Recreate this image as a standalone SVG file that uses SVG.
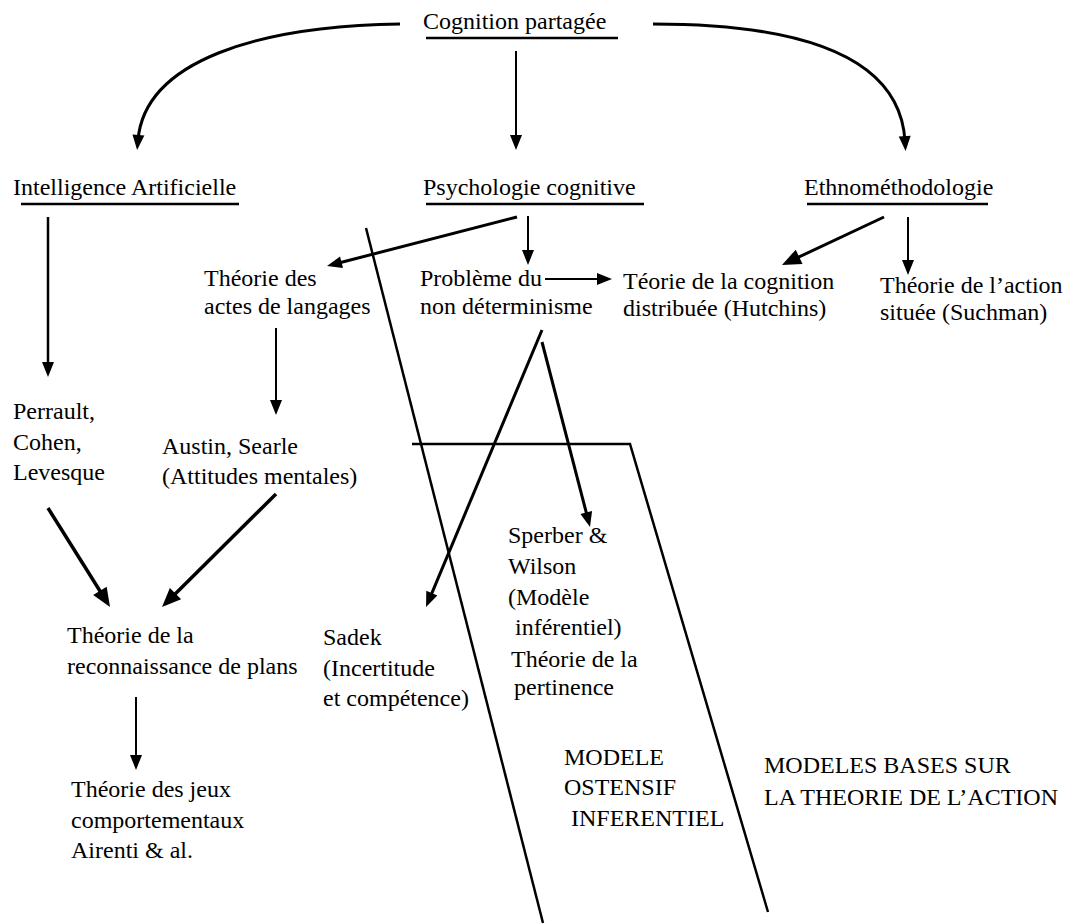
<svg xmlns="http://www.w3.org/2000/svg" width="1077" height="924" viewBox="0 0 1077 924">
<style>
text{font-family:"Liberation Serif","Times New Roman",serif;font-size:24px;fill:#000}
.ul{stroke:#000;stroke-width:2.5;fill:none}
.c{stroke:#000;fill:none}
.t2{stroke-width:2}
.t25{stroke-width:2.5}
.t3{stroke-width:3}
.t35{stroke-width:3.5}
</style>
<defs>
<marker id="ah" markerUnits="userSpaceOnUse" markerWidth="15" markerHeight="12" refX="5" refY="6" orient="auto" overflow="visible">
<path d="M0,0 L15,6 L0,12 z" fill="#000"/>
</marker>
<marker id="ahL" markerUnits="userSpaceOnUse" markerWidth="19" markerHeight="16" refX="9" refY="8" orient="auto" overflow="visible">
<path d="M0,0 L19,8 L0,16 z" fill="#000"/>
</marker>
</defs>
<rect width="1077" height="924" fill="#fff"/>

<g id="n-cognition"><text x="423" y="29">Cognition partagée</text><line class="ul" x1="426" y1="38" x2="618" y2="38"/></g>
<g id="n-ia"><text x="13" y="195">Intelligence Artificielle</text><line class="ul" x1="21" y1="204" x2="239" y2="204"/></g>
<g id="n-psy"><text x="423" y="195">Psychologie cognitive</text><line class="ul" x1="426" y1="204" x2="644" y2="204"/></g>
<g id="n-ethno"><text x="804" y="195">Ethnométhodologie</text><line class="ul" x1="807" y1="204" x2="988" y2="204"/></g>
<g id="n-actes"><text x="204" y="286">Théorie des</text><text x="204" y="314">actes de langages</text></g>
<g id="n-probleme"><text x="420" y="286">Problème du</text><text x="420" y="314">non déterminisme</text></g>
<g id="n-distrib"><text x="623" y="289">Téorie de la cognition</text><text x="623" y="316">distribuée (Hutchins)</text></g>
<g id="n-situee"><text x="880" y="293">Théorie de l’action</text><text x="880" y="320">située (Suchman)</text></g>
<g id="n-perrault"><text x="13" y="419">Perrault,</text><text x="13" y="450">Cohen,</text><text x="13" y="480">Levesque</text></g>
<g id="n-austin"><text x="162" y="454">Austin, Searle</text><text x="162" y="484">(Attitudes mentales)</text></g>
<g id="n-sperber"><text x="508" y="543">Sperber &amp;</text><text x="508" y="574">Wilson</text><text x="508" y="605">(Modèle</text><text x="515" y="635">inférentiel)</text><text x="511" y="667">Théorie de la</text><text x="514" y="695">pertinence</text></g>
<g id="n-plans"><text x="67" y="643">Théorie de la</text><text x="67" y="674">reconnaissance de plans</text></g>
<g id="n-sadek"><text x="323" y="645">Sadek</text><text x="323" y="676">(Incertitude</text><text x="323" y="706">et compétence)</text></g>
<g id="n-jeux"><text x="71" y="797">Théorie des jeux</text><text x="71" y="828">comportementaux</text><text x="71" y="858">Airenti &amp; al.</text></g>
<g id="n-ostensif"><text x="564" y="765">MODELE</text><text x="564" y="795">OSTENSIF</text><text x="571" y="826">INFERENTIEL</text></g>
<g id="n-action"><text x="764" y="773">MODELES BASES SUR</text><text x="764" y="805">LA THEORIE DE L’ACTION</text></g>

<g id="connectors">
<path class="c t3" d="M400,24 C260,26 145,60 138,140" marker-end="url(#ah)"/>
<path class="c t2" d="M516,51 V140" marker-end="url(#ah)"/>
<path class="c t3" d="M653,24 C810,24 900,60 905,141" marker-end="url(#ah)"/>
<path class="c t25" d="M48,217 V367" marker-end="url(#ah)"/>
<path class="c t3" d="M517,217 L336.7,263.5" marker-end="url(#ah)"/>
<path class="c t2" d="M528,216 V255" marker-end="url(#ah)"/>
<path class="c t2" d="M545,279 H602" marker-end="url(#ah)"/>
<path class="c t3" d="M884,217 L791,260.7" marker-end="url(#ahL)"/>
<path class="c t2" d="M908,217 V265" marker-end="url(#ah)"/>
<path class="c t2" d="M276,328 V405" marker-end="url(#ah)"/>
<path class="c t35" d="M48,508 L104.7,598.5" marker-end="url(#ahL)"/>
<path class="c t35" d="M276,494 L169.1,600" marker-end="url(#ahL)"/>
<path class="c t2" d="M136,697 V760" marker-end="url(#ah)"/>
<path class="c t3" d="M542,330 L429.9,597.8" marker-end="url(#ah)"/>
<path class="c t3" d="M542,342 L587.5,517.3" marker-end="url(#ah)"/>
<path class="c t25" d="M366,228 L543,923"/>
<path class="c t25" d="M412,444 H630 L768,912"/>
</g>
</svg>
